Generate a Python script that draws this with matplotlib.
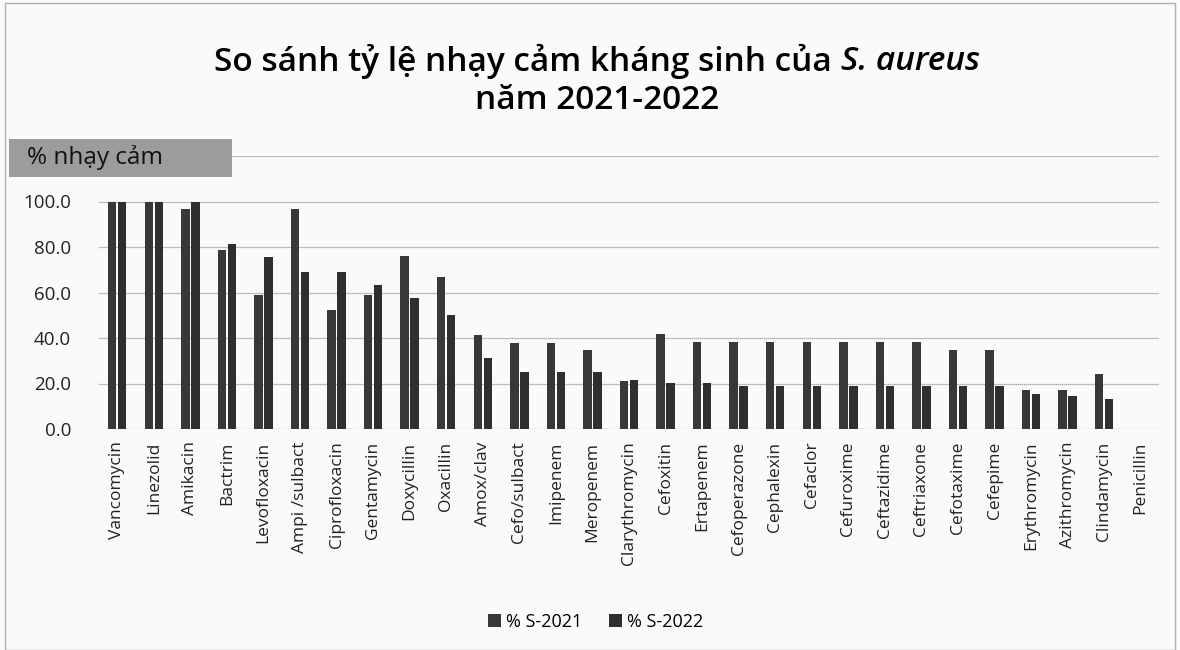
import numpy as np
import matplotlib
matplotlib.use("Agg")
import matplotlib.pyplot as plt
from matplotlib.patches import Rectangle

# khang sinh
drugs = ["Vancomycin", "Linezolid", "Amikacin", "Bactrim", "Levofloxacin",
         "Ampi /sulbact", "Ciprofloxacin", "Gentamycin", "Doxycillin", "Oxacillin",
         "Amox/clav", "Cefo/sulbact", "Imipenem", "Meropenem", "Clarythromycin",
         "Cefoxitin", "Ertapenem", "Cefoperazone", "Cephalexin", "Cefaclor",
         "Cefuroxime", "Ceftazidime", "Ceftriaxone", "Cefotaxime", "Cefepime",
         "Erythromycin", "Azithromycin", "Clindamycin", "Penicillin"]
s2021 = [100, 100, 96.8, 78.8, 58.8, 96.9, 52.1, 59.1, 76.2, 66.9,
         41.2, 38.0, 38.0, 34.6, 21.0, 41.6, 38.2, 38.2, 38.2, 38.2,
         38.2, 38.2, 38.2, 34.6, 34.6, 17.1, 17.1, 24.2, 0]
s2022 = [100, 100, 100, 81.5, 75.5, 69.2, 69.2, 63.1, 57.5, 50.1,
         31.2, 25.1, 25.1, 25.1, 21.6, 20.4, 20.4, 19.0, 19.0, 19.0,
         19.0, 19.0, 19.0, 19.0, 19.0, 15.2, 14.5, 13.3, 0]
yticks = [0, 20, 40, 60, 80, 100]

font = "Open Sans"
bar_col = "#383838"

fig = plt.figure(figsize=(11.8, 6.5), dpi=100)
fig.patch.set_facecolor("#fafafa")
ax = fig.add_axes([0.0839, 0.34, 0.8983, 0.42])
ax.set_facecolor("none")

x = np.arange(len(drugs))
ax.bar(x - 0.137, s2021, width=0.23, color=bar_col, label="% S-2021", zorder=3)
ax.bar(x + 0.137, s2022, width=0.23, color="#2f2f2f", label="% S-2022", zorder=3)

ax.set_xlim(-0.5, len(drugs) - 0.5)
ax.set_ylim(0, 120)
ax.set_yticks(yticks)
ax.set_yticklabels(["%.1f" % v for v in yticks], fontsize=13.5, family=font, color="#222")
for v in yticks + [120]:
    ax.axhline(v, color="#9a9a9a", lw=0.9, ls=(0, (1, 0.6)), zorder=1)
ax.set_xticks(x)
ax.set_xticklabels(drugs, rotation=90, fontsize=12.5, family=font, color="#222")
ax.tick_params(length=0, pad=9)
ax.tick_params(axis="y", pad=20)
for s in ax.spines.values():
    s.set_visible(False)

# tieu de: phan dam + phan nghieng
t1 = fig.text(0.17, 0.905, "So sánh tỷ lệ nhạy cảm kháng sinh của ",
              ha="left", va="center", fontsize=24, family=font, fontweight="semibold")
fig.canvas.draw()
bb = t1.get_window_extent()
t2 = fig.text(0, 0.905, "S. aureus", ha="left", va="center", fontsize=24,
              family=font, fontweight="semibold", style="italic")
bb2 = t2.get_window_extent()
total = bb.width + bb2.width
x0 = (0.506 * fig.bbox.width - total / 2)
t1.set_x(x0 / fig.bbox.width)
t2.set_x((x0 + bb.width) / fig.bbox.width)
fig.text(0.506, 0.845, "năm 2021-2022", ha="center", va="center",
         fontsize=24, family=font, fontweight="semibold")

# o "% nhay cam"
fig.patches.append(Rectangle((0.008, 0.728), 0.189, 0.058, transform=fig.transFigure,
                             facecolor="#9c9c9c", edgecolor="none", zorder=5))
fig.text(0.023, 0.758, "% nhạy cảm", ha="left", va="center", fontsize=17.5,
         family=font, color="#111", zorder=6)

# khung ngoai
fig.patches.append(Rectangle((0.004, 0.0), 0.992, 0.995, transform=fig.transFigure,
                             facecolor="none", edgecolor="#b0b0b0", lw=1))

leg = fig.legend(loc="center", bbox_to_anchor=(0.505, 0.043), ncol=2, frameon=False,
                 prop={"family": font, "size": 13}, handlelength=0.7, handleheight=0.7,
                 handletextpad=0.3, columnspacing=1.5)

fig.savefig("out.png", dpi=100, facecolor=fig.get_facecolor())
